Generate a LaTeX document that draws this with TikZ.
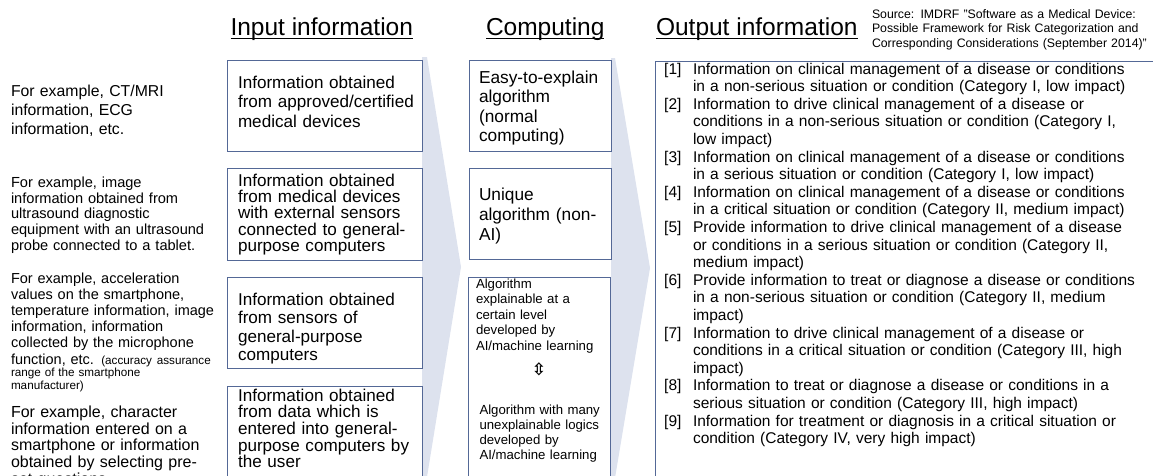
\documentclass[tikz,border=0pt]{standalone}
\usepackage{fontspec}
\setmainfont{Liberation Sans}
\newfontfamily\dejavufont{DejaVu Sans}
\definecolor{boxc}{RGB}{84,104,150}
\definecolor{arrc}{RGB}{221,226,238}
\newcommand{\fsz}[2]{\fontsize{#1}{#2}\selectfont\lineskiplimit=-50pt\relax}
\begin{document}
\begin{tikzpicture}[x=1pt,y=-1pt,
  frame/.style={draw=boxc, line width=1.3pt, inner sep=0pt, anchor=north west},
  txt/.style={anchor=base west, inner sep=0pt, outer sep=0pt, text width=#1, align=left},
  hdr/.style={anchor=base west, inner sep=0pt, outer sep=0pt, font=\fsz{24.5}{28}},
  uline/.style={line width=1.4pt},
  chev/.style={fill=arrc, draw=none}]
\useasboundingbox (0,0) rectangle (1153,475);
\clip (0,0) rectangle (1153,475);

% big chevron arrows
\fill[chev] (422,57) -- (427,57) -- (461,267) -- (427,477) -- (422,477) -- cycle;
\fill[chev] (611,58) -- (615,58) -- (650,268) -- (615,478) -- (611,478) -- cycle;

% headings
\node[hdr] (hin) at (230.5,35) {Input information};
\node[hdr] (hcomp) at (486,35) {Computing};
\node[hdr] (hout) at (656,35) {Output information};
\foreach \h in {hin,hcomp,hout}
  \draw[uline] ([yshift=-3.5pt]\h.base west) -- ([yshift=-3.5pt]\h.base east);

\node[txt=300pt, font=\fsz{12.3}{14.5}] (src) at (872,18.3)
  {Source: IMDRF "Software as a Medical Device:\\
   Possible Framework for Risk Categorization and\\
   Corresponding Considerations (September 2014)"};

% left examples
\node[txt=215pt, font=\fsz{15.8}{19}] (ex1) at (11,96)
  {For example, CT/MRI\\information, ECG\\information, etc.};
\node[txt=215pt, font=\fsz{14.6}{15.7}] (ex2) at (11,187.5)
  {For example, image\\information obtained from\\ultrasound diagnostic\\equipment with an ultrasound\\probe connected to a tablet.};
\node[txt=215pt, font=\fsz{14.5}{16.2}] (ex3) at (11,283)
  {For example, acceleration\\values on the smartphone,\\temperature information, image\\information, information\\collected by the microphone\\function, etc. {\fsz{11.7}{13}(accuracy assurance}};
\node[txt=215pt, font=\fsz{11.7}{12.3}] (ex3b) at (11,376.7)
  {range of the smartphone\\manufacturer)};
\node[txt=215pt, font=\fsz{16}{16.7}] (ex4) at (11,417.3)
  {For example, character\\information entered on a\\smartphone or information\\obtained by selecting pre-\\set questions};

% input boxes
\node[frame, minimum width=195pt, minimum height=91pt] (in1) at (227,60) {};
\node[frame, minimum width=195pt, minimum height=92pt] (in2) at (227,168) {};
\node[frame, minimum width=195pt, minimum height=91pt] (in3) at (227,277) {};
\node[frame, minimum width=195pt, minimum height=130pt] (in4) at (227,385.5) {};
\node[txt=185pt, font=\fsz{17.1}{19.5}] (tin1) at (238,88)
  {Information obtained\\from approved/certified\\medical devices};
\node[txt=185pt, font=\fsz{17.1}{16.4}] (tin2) at (238,186)
  {Information obtained\\from medical devices\\with external sensors\\connected to general-\\purpose computers};
\node[txt=185pt, font=\fsz{17.1}{18.5}] (tin3) at (238,305)
  {Information obtained\\from sensors of\\general-purpose\\computers};
\node[txt=185pt, font=\fsz{17.1}{16.7}] (tin4) at (238,401)
  {Information obtained\\from data which is\\entered into general-\\purpose computers by\\the user};

% computing boxes
\node[frame, minimum width=142pt, minimum height=91pt] (c1) at (469,60) {};
\node[frame, minimum width=142pt, minimum height=91pt] (c2) at (469,168) {};
\node[frame, minimum width=142pt, minimum height=230pt] (c3) at (468,277) {};
\node[txt=135pt, font=\fsz{17.3}{19.5}] (tc1) at (479,83)
  {Easy-to-explain\\algorithm\\(normal\\computing)};
\node[txt=135pt, font=\fsz{17.3}{20}] (tc2) at (479,200)
  {Unique\\algorithm (non-\\AI)};
\node[txt=135pt, font=\fsz{13.2}{15.5}] (tc3a) at (476,288)
  {Algorithm\\explainable at a\\certain level\\developed by\\AI/machine learning};
\node[inner sep=0pt, font=\dejavufont\bfseries\fsz{17}{19}] (dbl) at (539,369) {⇳};
\node[txt=135pt, font=\fsz{13.2}{15}] (tc3b) at (479.5,414)
  {Algorithm with many\\unexplainable logics\\developed by\\AI/machine learning};

% output box
\node[frame, minimum width=520pt, minimum height=440pt] (outb) at (655,61) {};
\foreach \n/\l in {1/0,2/2,3/5,4/7,5/9,6/12,7/15,8/18,9/20}
  \node[anchor=base west, inner sep=0pt, font=\fsz{15.5}{17.6}] (num\n) at (664,74+17.6*\l) {[\n]};
\node[txt=460pt, font=\fsz{15.5}{17.6}] (tout) at (693,74)
  {Information on clinical management of a disease or conditions\\
   in a non-serious situation or condition (Category I, low impact)\\
   Information to drive clinical management of a disease or\\
   conditions in a non-serious situation or condition (Category I,\\
   low impact)\\
   Information on clinical management of a disease or conditions\\
   in a serious situation or condition (Category I, low impact)\\
   Information on clinical management of a disease or conditions\\
   in a critical situation or condition (Category II, medium impact)\\
   Provide information to drive clinical management of a disease\\
   or conditions in a serious situation or condition (Category II,\\
   medium impact)\\
   Provide information to treat or diagnose a disease or conditions\\
   in a non-serious situation or condition (Category II, medium\\
   impact)\\
   Information to drive clinical management of a disease or\\
   conditions in a critical situation or condition (Category III, high\\
   impact)\\
   Information to treat or diagnose a disease or conditions in a\\
   serious situation or condition (Category III, high impact)\\
   Information for treatment or diagnosis in a critical situation or\\
   condition (Category IV, very high impact)};
\end{tikzpicture}
\end{document}
